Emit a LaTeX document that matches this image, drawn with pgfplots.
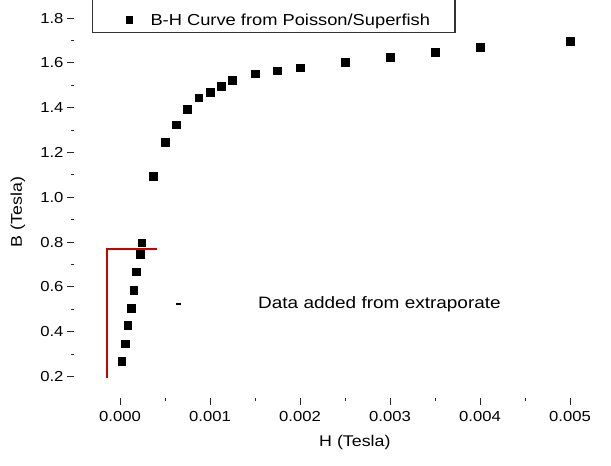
\documentclass[border=0pt]{standalone}
\usepackage{fontspec}
\setmainfont{Liberation Sans}[FakeStretch=1.15]
\usepackage{pgfplots}
\pgfplotsset{compat=1.18}
\usetikzlibrary{calc}
\begin{document}
\begin{tikzpicture}
\begin{axis}[
  name=ax,
  scale only axis,
  width=526pt, height=398pt,
  xmin=-0.000511, xmax=0.005333,
  ymin=0.104, ymax=1.881,
  axis line style={draw=none},
  tick pos=left, tick align=outside,
  major tick length=7pt, minor tick length=3pt,
  tick style={black!85, line width=0.9pt},
  xtick={0,0.001,0.002,0.003,0.004,0.005},
  minor xtick={0.0005,0.0015,0.0025,0.0035,0.0045},
  ytick={0.2,0.4,...,1.8},
  minor ytick={0.3,0.5,...,1.7},
  scaled x ticks=false,
  /pgf/number format/assume math mode=true,
  xticklabel style={/pgf/number format/.cd, fixed, fixed zerofill, precision=3, /tikz/.cd, font=\fontsize{14.5}{17}\selectfont, yshift=-3pt},
  yticklabel style={/pgf/number format/.cd, fixed, fixed zerofill, precision=1, /tikz/.cd, font=\fontsize{14.5}{17}\selectfont},
  xlabel={H (Tesla)},
  ylabel={B (Tesla)},
  xlabel style={at={(axis description cs:0.534,-0.1106)}, anchor=center, font=\fontsize{15.5}{18}\selectfont},
  ylabel style={at={(axis description cs:-0.1065,0.467)}, anchor=center, font=\fontsize{15.5}{18}\selectfont},
  legend style={at={(axis description cs:0.098,0.9497)}, anchor=west, draw=none, fill=none, inner sep=0pt, column sep=16pt, font=\fontsize{15.9}{19}\selectfont},
  legend image code/.code={\draw[mark=square*, mark size=3.4pt, black] plot coordinates {(0.3cm,0cm)};},
]
\addplot[only marks, mark=square*, mark size=3.9pt, black] table {
x y
0.0000189 0.269
0.0000556 0.346
0.0000856 0.429
0.000122 0.506
0.000152 0.586
0.000181 0.668
0.000222 0.746
0.000241 0.797
0.000367 1.096
0.0005 1.247
0.000625 1.324
0.00075 1.393
0.000875 1.445
0.001 1.470
0.001125 1.497
0.00125 1.522
0.0015 1.552
0.00175 1.565
0.002 1.579
0.0025 1.603
0.003 1.625
0.0035 1.647
0.004 1.672
0.005 1.698
};
\addlegendentry{B-H Curve from Poisson/Superfish}
% legend frame (left, bottom, right; top cut off)
\draw[black!80, line width=1.2pt] (axis cs:-0.000308,1.881) -- (axis cs:-0.000308,1.7366) -- (axis cs:0.003722,1.7366) -- (axis cs:0.003722,1.881);
% red bracket
\draw[red!80!black, line width=2pt] (axis cs:-0.000141,0.192) -- (axis cs:-0.000141,0.768) -- (axis cs:0.000408,0.768);
% small dash
\draw[black, line width=2pt] (axis cs:0.000622,0.524) -- (axis cs:0.000678,0.524);
\node[anchor=west, inner sep=0pt, font=\fontsize{16.5}{19}\selectfont] at (axis cs:0.001533,0.524) {Data added from extraporate};
\end{axis}
\pgfresetboundingbox
\path ($(ax.south west)+(-74pt,-68pt)$) rectangle ($(ax.north east)+(11pt,0pt)$);
\end{tikzpicture}
\end{document}
